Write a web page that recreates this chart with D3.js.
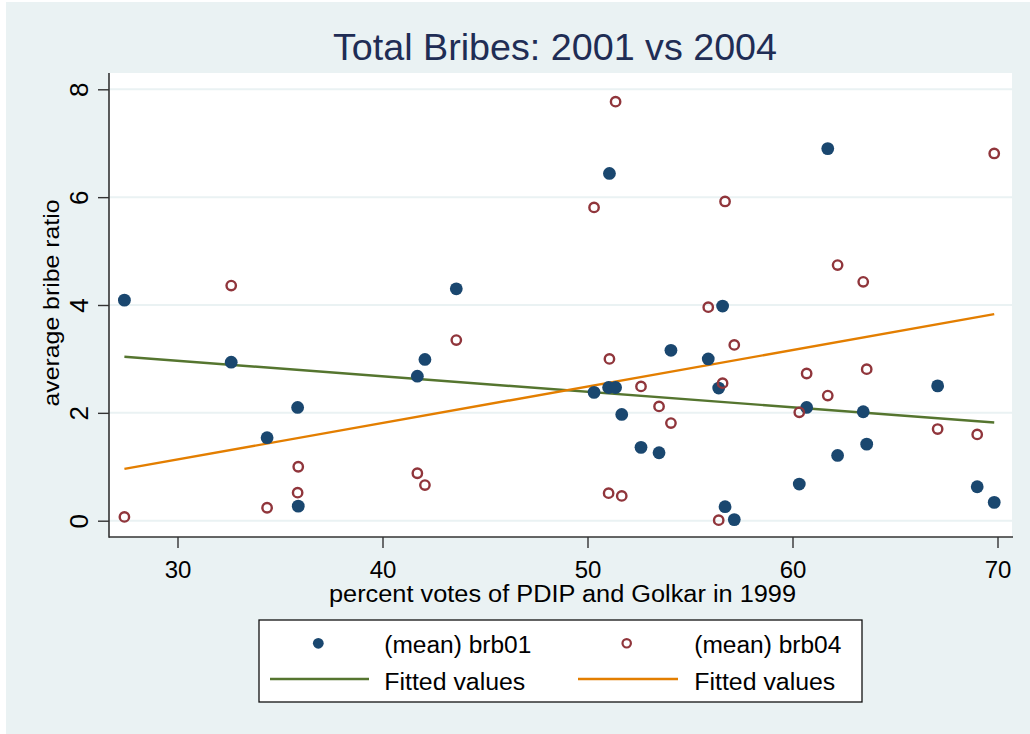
<!DOCTYPE html>
<html>
<head>
<meta charset="utf-8">
<script src="https://cdn.jsdelivr.net/npm/d3@7"></script>
<style>
  html, body { margin: 0; padding: 0; background: #ffffff; }
  svg { display: block; }
  text { font-family: "Liberation Sans", Arial, Helvetica, sans-serif; }
</style>
</head>
<body>
<svg id="chart" width="1030" height="734"></svg>
<script>
// ---- data ----
const pctVotes = [27.41, 32.62, 34.37, 35.86, 35.89, 41.70, 42.07, 43.60, 50.32, 51.03,
                  51.07, 51.37, 51.67, 52.61, 53.49, 54.07, 55.89, 56.40, 56.59, 56.71,
                  57.16, 60.33, 60.69, 61.72, 62.20, 63.45, 63.62, 67.08, 69.01, 69.84];
const brb01 = [4.09, 2.94, 1.54, 2.10, 0.27, 2.68, 2.99, 4.30, 2.38, 2.47,
               6.44, 2.47, 1.97, 1.36, 1.26, 3.16, 3.00, 2.46, 3.98, 0.26,
               0.02, 0.68, 2.10, 6.90, 1.21, 2.02, 1.42, 2.50, 0.63, 0.34];
const brb04 = [0.07, 4.36, 0.24, 0.52, 1.00, 0.88, 0.66, 3.35, 5.81, 0.51,
               3.00, 7.77, 0.46, 2.49, 2.12, 1.81, 3.96, 0.01, 2.55, 5.92,
               3.26, 2.01, 2.73, 2.32, 4.74, 4.43, 2.81, 1.70, 1.60, 6.81];
// fitted-value lines (end points)
const fitX = [27.41, 69.84];
const fit01 = [3.04, 1.82];
const fit04 = [0.96, 3.83];

const xTicks = [30, 40, 50, 60, 70];
const yTicks = [0, 2, 4, 6, 8];

const titleText = "Total Bribes: 2001 vs 2004";
const xTitle = "percent votes of PDIP and Golkar in 1999";
const yTitle = "average bribe ratio";
const legendLabels = ["(mean) brb01", "(mean) brb04", "Fitted values", "Fitted values"];

// ---- styles ----
const BG = "#eaf2f3";
const BLUE = "#1a476f";
const RED = "#90353b";
const GREEN = "#55752f";
const ORANGE = "#e37e00";

const svg = d3.select("#chart");

// outer graph region
svg.append("rect").attr("x", 6).attr("y", 2).attr("width", 1024).attr("height", 732).attr("fill", BG);

// plot region
const plot = { left: 109, right: 1012, top: 73, bottom: 537 };
svg.append("rect")
  .attr("x", plot.left).attr("y", plot.top)
  .attr("width", plot.right - plot.left).attr("height", plot.bottom - plot.top)
  .attr("fill", "#ffffff");

const x = d3.scaleLinear().domain([30, 70]).range([177.5, 997.5]);
const y = d3.scaleLinear().domain([0, 8]).range([520.7, 89.3]);

// grid lines
svg.append("g").selectAll("line").data(yTicks).join("line")
  .attr("x1", plot.left).attr("x2", plot.right)
  .attr("y1", d => y(d)).attr("y2", d => y(d))
  .attr("stroke", BG).attr("stroke-width", 2);

// fitted lines
const line = d3.line().x(d => x(d[0])).y(d => y(d[1]));
svg.append("path").datum(fitX.map((v, i) => [v, fit01[i]]))
  .attr("d", line).attr("fill", "none").attr("stroke", GREEN).attr("stroke-width", 2.4);
svg.append("path").datum(fitX.map((v, i) => [v, fit04[i]]))
  .attr("d", line).attr("fill", "none").attr("stroke", ORANGE).attr("stroke-width", 2.4);

// points
svg.append("g").selectAll("circle").data(pctVotes.map((v, i) => [v, brb01[i]])).join("circle")
  .attr("cx", d => x(d[0])).attr("cy", d => y(d[1])).attr("r", 6.4)
  .attr("fill", BLUE);
svg.append("g").selectAll("circle").data(pctVotes.map((v, i) => [v, brb04[i]])).join("circle")
  .attr("cx", d => x(d[0])).attr("cy", d => y(d[1])).attr("r", 4.7)
  .attr("fill", "none").attr("stroke", RED).attr("stroke-width", 2.4);

// axes
const yAxis = d3.axisLeft(y).tickValues(yTicks).tickSize(11).tickPadding(9).tickFormat(d3.format("d"));
const gy = svg.append("g").attr("transform", `translate(${plot.left},0)`).call(yAxis);
gy.select(".domain").remove();
gy.selectAll(".tick line").attr("stroke", "#333").attr("stroke-width", 1.4);
gy.selectAll(".tick text")
  .attr("font-size", 26).attr("fill", "#000")
  .attr("x", null).attr("dy", null)
  .attr("text-anchor", "middle")
  .attr("transform", "translate(-21,0) rotate(-90)");

const xAxis = d3.axisBottom(x).tickValues(xTicks).tickSize(11).tickPadding(8).tickFormat(d3.format("d"));
const gx = svg.append("g").attr("transform", `translate(0,${plot.bottom})`).call(xAxis);
gx.select(".domain").remove();
gx.selectAll(".tick line").attr("stroke", "#333").attr("stroke-width", 1.4);
gx.selectAll(".tick text").attr("font-size", 24).attr("fill", "#000").attr("dy", null).attr("y", 41);

// axis lines
svg.append("line").attr("x1", plot.left).attr("x2", plot.left).attr("y1", plot.top).attr("y2", plot.bottom + 0.7)
  .attr("stroke", "#333").attr("stroke-width", 1.6);
svg.append("line").attr("x1", plot.left).attr("x2", plot.right + 1).attr("y1", plot.bottom).attr("y2", plot.bottom)
  .attr("stroke", "#333").attr("stroke-width", 1.6);

// titles
svg.append("text").attr("x", 333).attr("y", 60).attr("font-size", 36)
  .attr("fill", "#1f2d55").attr("textLength", 444).attr("lengthAdjust", "spacingAndGlyphs")
  .text(titleText);
svg.append("text").attr("x", 329).attr("y", 602).attr("font-size", 23)
  .attr("fill", "#000").attr("textLength", 467).attr("lengthAdjust", "spacingAndGlyphs")
  .text(xTitle);
svg.append("text").attr("transform", "translate(59,406.5) rotate(-90)").attr("font-size", 22.5)
  .attr("fill", "#000").attr("textLength", 207).attr("lengthAdjust", "spacingAndGlyphs")
  .text(yTitle);

// legend
const lg = svg.append("g");
lg.append("rect").attr("x", 259).attr("y", 620).attr("width", 603).attr("height", 82)
  .attr("fill", "#ffffff").attr("stroke", "#111").attr("stroke-width", 1.3);
lg.append("circle").attr("cx", 318.3).attr("cy", 643.3).attr("r", 5.4).attr("fill", BLUE);
lg.append("circle").attr("cx", 626.7).attr("cy", 643.3).attr("r", 4.2)
  .attr("fill", "none").attr("stroke", RED).attr("stroke-width", 2.2);
lg.append("line").attr("x1", 270).attr("x2", 369).attr("y1", 679).attr("y2", 679)
  .attr("stroke", GREEN).attr("stroke-width", 2.4);
lg.append("line").attr("x1", 578).attr("x2", 678).attr("y1", 679).attr("y2", 679)
  .attr("stroke", ORANGE).attr("stroke-width", 2.4);
const legendPos = [[384.3, 652.5], [694.3, 652.5], [384.3, 689.5], [694.3, 689.5]];
const legendW = [147, 147, 141, 141];
lg.selectAll("text.lt").data(legendLabels).join("text").attr("class", "lt")
  .attr("x", (d, i) => legendPos[i][0]).attr("y", (d, i) => legendPos[i][1])
  .attr("font-size", 23).attr("fill", "#000")
  .attr("textLength", (d, i) => legendW[i]).attr("lengthAdjust", "spacingAndGlyphs")
  .text(d => d);
</script>
</body>
</html>
